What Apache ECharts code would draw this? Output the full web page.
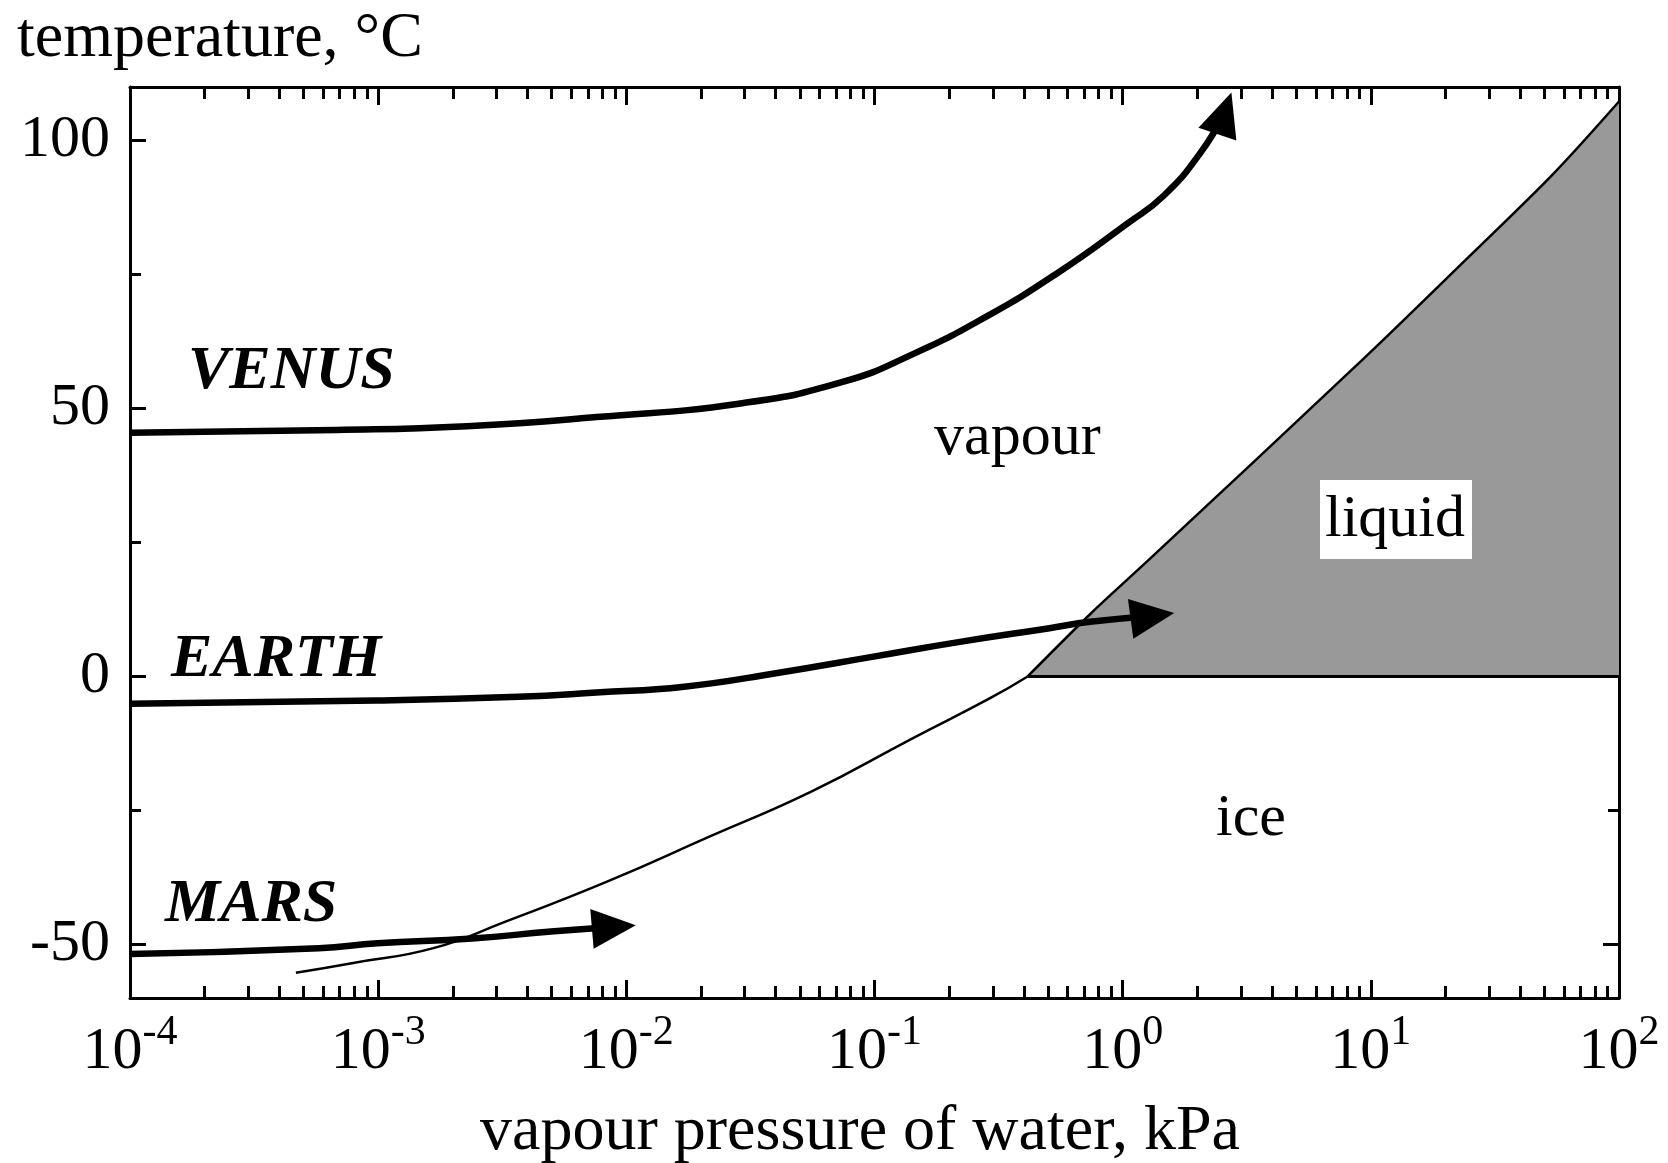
<!DOCTYPE html>
<html>
<head>
<meta charset="utf-8">
<script src="https://cdn.jsdelivr.net/npm/echarts@6/dist/echarts.min.js"></script>
<style>
  html, body { margin: 0; padding: 0; background: #fff; }
  #chart { width: 1668px; height: 1163px; }
</style>
</head>
<body>
<div id="chart"></div>
<script>
// ---------- data (pressure in kPa, temperature in °C) ----------
const tickDecades = [1e-4, 1e-3, 1e-2, 1e-1, 1, 10, 100];
const minorMultipliers = [2, 3, 4, 5, 6, 7, 8, 9];
const yMajorTicks = [-50, 0, 50, 100];
const yMinorTicks = [-25, 25, 75];

// ice / vapour boundary (below the triple point)
const sublimationP = [4.66e-4, 7.83e-4, 1.67e-3, 3.24e-3, 8.36e-3, 0.0216, 0.0556, 0.143, 0.291, 0.414];
const sublimationT = [-55.3, -53.5, -50.7, -45.8, -38.3, -29.9, -21.5, -11.5, -4.1, 0];

// liquid / vapour boundary (above the triple point)
const vaporisationP = [0.414, 0.746, 1.27, 9.40, 24.8, 54.6, 100];
const vaporisationT = [0, 11.8, 21.7, 59.4, 78.3, 93.9, 107.3];

// ice / liquid boundary
const meltingP = [0.414, 100];
const meltingT = [0, 0];

// planetary paths
const venusP = [1e-4, 6.79e-4, 2.28e-3, 7.59e-3, 0.0293, 0.0750, 0.145, 0.281, 0.543, 1.05, 1.47, 2.05, 2.57];
const venusT = [45.5, 46.0, 46.7, 48.4, 51.0, 55.0, 60.3, 67.1, 75.2, 84.6, 89.8, 97.6, 105.1];
const venusArrowP = [2.416, 2.57];
const venusArrowT = [101.4, 105.1];

const earthP = [1e-4, 9.86e-4, 3.68e-3, 7.57e-3, 0.0171, 0.0412, 0.0991, 0.224, 0.507, 0.738, 1.318];
const earthT = [-5.1, -4.5, -3.8, -3.0, -1.9, 0.7, 3.7, 6.5, 9.0, 10.2, 11.3];
const earthArrowP = [1.077, 1.318];
const earthArrowT = [10.75, 11.3];

const marsP = [1e-4, 5.77e-4, 9.93e-4, 2.39e-3, 4.97e-3, 8.91e-3];
const marsT = [-51.8, -50.7, -49.8, -48.9, -47.6, -46.75];
const marsArrowP = [7.26e-3, 8.91e-3];
const marsArrowT = [-47.1, -46.75];

const planetNames = ['VENUS', 'EARTH', 'MARS'];
const regionNames = ['vapour', 'liquid', 'ice'];
const xAxisTitle = 'vapour pressure of water, kPa';
const yAxisTitle = 'temperature, °C';

// ---------- helpers ----------
const zip = (xs, ys) => xs.map((x, i) => [x, ys[i]]);
const minorTicks = [];
tickDecades.slice(0, -1).forEach(d => minorMultipliers.forEach(m => minorTicks.push(d * m)));

const FONT = '"Liberation Serif", "Times New Roman", serif';
const BLACK = '#000';

function xAxisCfg(position, values, len, withLine, withLabels) {
  return {
    type: 'log', logBase: 10, min: 1e-4, max: 100, position: position,
    axisLine: { show: withLine, onZero: false, lineStyle: { color: BLACK, width: 3 } },
    axisTick: { show: true, inside: true, length: len, customValues: values,
                lineStyle: { color: BLACK, width: 3 } },
    axisLabel: withLabels ? {
      show: true, customValues: tickDecades, margin: 14,
      formatter: v => '{a|10}{b|' + Math.round(Math.log10(v)) + '}',
      rich: {
        a: { fontSize: 60, fontFamily: FONT, color: BLACK, lineHeight: 80, verticalAlign: 'middle' },
        b: { fontSize: 42, fontFamily: FONT, color: BLACK, lineHeight: 42, verticalAlign: 'top' }
      }
    } : { show: false },
    splitLine: { show: false },
    minorTick: { show: false },
    minorSplitLine: { show: false }
  };
}

function yAxisCfg(position, values, len, withLine, withLabels) {
  return {
    type: 'value', min: -60, max: 110, position: position,
    axisLine: { show: withLine, onZero: false, lineStyle: { color: BLACK, width: 3 } },
    axisTick: { show: true, inside: true, length: len, customValues: values,
                lineStyle: { color: BLACK, width: 3 } },
    axisLabel: withLabels ? {
      show: true, customValues: yMajorTicks, margin: 20,
      fontSize: 60, fontFamily: FONT, color: BLACK,
      formatter: v => String(v)
    } : { show: false },
    splitLine: { show: false }
  };
}

function planetSeries(name, p, t, ap, at) {
  return {
    name: name, type: 'line', data: zip(p, t), smooth: 0.5,
    symbol: 'none', showSymbol: false, z: 5,
    lineStyle: { color: BLACK, width: 6.5 },
    markLine: {
      silent: true, symbol: ['none', 'triangle'], symbolSize: [40, 44],
      label: { show: false },
      lineStyle: { color: BLACK, width: 6.5, type: 'solid' },
      emphasis: { disabled: true },
      data: [[{ coord: [ap[0], at[0]] }, { coord: [ap[1], at[1]] }]]
    }
  };
}

function txt(text, x, y, size, extra) {
  return {
    type: 'text', x: x, y: y, z: 100,
    style: Object.assign({
      text: text, fill: BLACK, fontSize: size, fontFamily: FONT,
      align: 'left', verticalAlign: 'middle',
      textAlign: 'left', textVerticalAlign: 'middle'
    }, extra || {})
  };
}

const chart = echarts.init(document.getElementById('chart'), null, { renderer: 'canvas' });
chart.setOption({
  animation: false,
  backgroundColor: '#fff',
  grid: { left: 130, right: 49, top: 87, bottom: 165, containLabel: false },
  xAxis: [
    xAxisCfg('bottom', tickDecades, 18, true, true),
    xAxisCfg('bottom', minorTicks, 12, false, false),
    xAxisCfg('top', tickDecades, 18, true, false),
    xAxisCfg('top', minorTicks, 12, false, false)
  ],
  yAxis: [
    yAxisCfg('left', yMajorTicks, 16, true, true),
    yAxisCfg('left', yMinorTicks, 11, false, false),
    yAxisCfg('right', yMajorTicks, 16, true, false),
    yAxisCfg('right', yMinorTicks, 11, false, false)
  ],
  series: [
    {
      name: 'liquid', type: 'line', data: zip(vaporisationP, vaporisationT),
      smooth: 0.3,
      symbol: 'none', showSymbol: false, z: 1,
      lineStyle: { color: BLACK, width: 2.5 },
      areaStyle: { color: '#999999', opacity: 1, origin: 0 }
    },
    {
      name: 'sublimation', type: 'line', data: zip(sublimationP, sublimationT),
      smooth: 0.5,
      symbol: 'none', showSymbol: false, z: 2,
      lineStyle: { color: BLACK, width: 2.5 }
    },
    {
      name: 'melting', type: 'line', data: zip(meltingP, meltingT),
      symbol: 'none', showSymbol: false, z: 2,
      lineStyle: { color: BLACK, width: 3 }
    },
    planetSeries(planetNames[0], venusP, venusT, venusArrowP, venusArrowT),
    planetSeries(planetNames[1], earthP, earthT, earthArrowP, earthArrowT),
    planetSeries(planetNames[2], marsP, marsT, marsArrowP, marsArrowT)
  ],
  graphic: [
    txt(yAxisTitle, 17, 39, 64),
    txt(xAxisTitle, 860, 1132, 64, { align: 'center', textAlign: 'center' }),
    txt(planetNames[0], 188, 372, 62, { fontWeight: 'bold', fontStyle: 'italic' }),
    txt(planetNames[1], 171, 660, 62, { fontWeight: 'bold', fontStyle: 'italic' }),
    txt(planetNames[2], 165, 905, 62, { fontWeight: 'bold', fontStyle: 'italic' }),
    txt(regionNames[0], 934, 438, 60),
    { type: 'rect', z: 99, shape: { x: 1320, y: 480, width: 152, height: 79 }, style: { fill: '#fff' } },
    txt(regionNames[1], 1325, 520, 60),
    txt(regionNames[2], 1216, 819, 60)
  ]
});
</script>
</body>
</html>
